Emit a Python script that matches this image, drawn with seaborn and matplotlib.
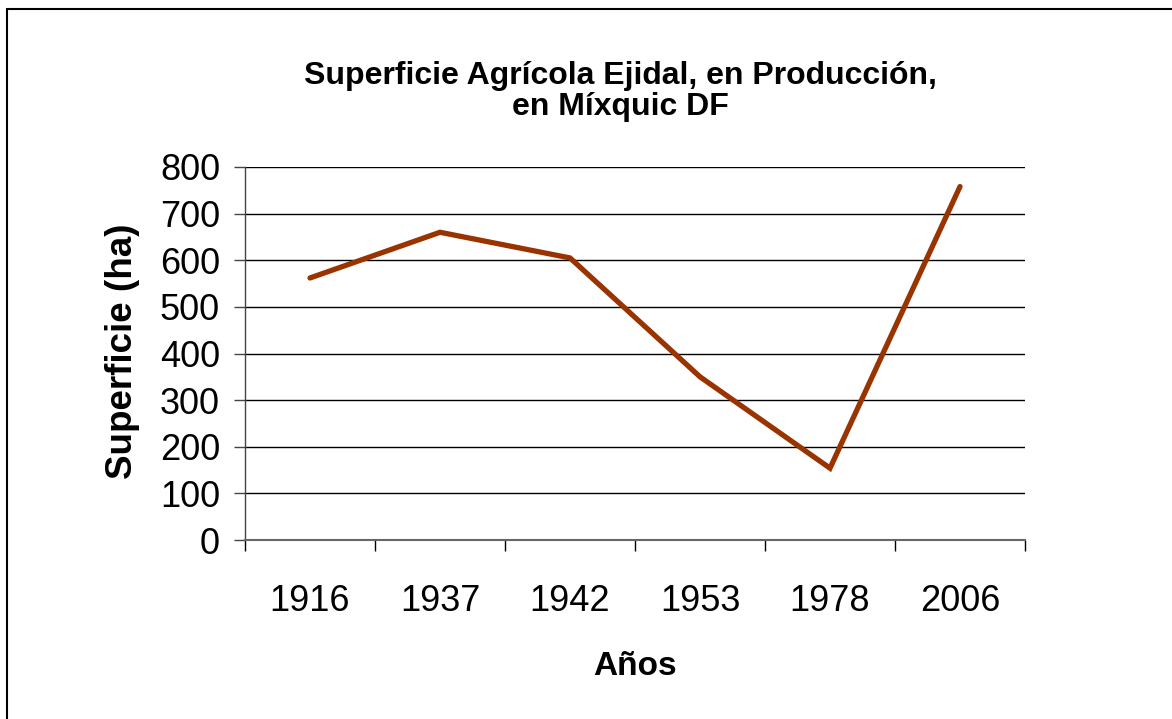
import matplotlib
matplotlib.use("Agg")
import matplotlib.pyplot as plt
import seaborn as sns
import pandas as pd
from matplotlib.lines import Line2D

years = ["1916", "1937", "1942", "1953", "1978", "2006"]
superficie = [562, 660, 605, 350, 154, 758]
yticks = [0, 100, 200, 300, 400, 500, 600, 700, 800]
title_lines = ["Superficie Agrícola Ejidal, en Producción,", "en Míxquic DF"]

sns.set_theme(style="white")
plt.rcParams['font.family'] = ['Liberation Sans', 'DejaVu Sans']
plt.rcParams['text.color'] = 'black'
plt.rcParams['axes.labelcolor'] = 'black'
plt.rcParams['xtick.color'] = 'black'
plt.rcParams['ytick.color'] = 'black'

df = pd.DataFrame({"year": years, "sup": superficie})

W, H = 1172, 719
fig = plt.figure(figsize=(W / 100, H / 100), dpi=100)
fig.patch.set_facecolor("white")
ax = fig.add_axes([245 / W, 1 - 540 / H, (1025 - 245) / W, (540 - 167) / H])

sns.lineplot(data=df, x="year", y="sup", ax=ax, color="#993300", linewidth=3.8,
             sort=False, solid_capstyle="round", solid_joinstyle="miter")

ax.set_xlim(-0.5, len(years) - 0.5)
ax.set_ylim(0, 800)
ax.set_yticks(yticks)
ax.set_yticklabels([str(v) for v in yticks], fontsize=26)
ax.set_xticks(range(len(years)))
ax.set_xticklabels(years, fontsize=26)
ax.set_xticks([i - 0.5 for i in range(len(years) + 1)], minor=True)
ax.tick_params(axis="x", which="major", length=0, pad=32)
ax.tick_params(axis="x", which="minor", length=8, width=1, color="black", direction="out", bottom=True)
ax.tick_params(axis="y", which="major", length=8, width=1, color="#444444", direction="out", left=True, pad=10)

ax.grid(axis="y", color="black", linewidth=1)
ax.grid(axis="x", visible=False)
ax.set_axisbelow(True)
for s in ["top", "right"]:
    ax.spines[s].set_visible(False)
ax.spines["left"].set_color("#444444")
ax.spines["bottom"].set_color("#666666")
ax.spines["left"].set_linewidth(1)
ax.spines["bottom"].set_linewidth(1.5)

ax.set_xlabel("Años", fontsize=24, fontweight="bold", labelpad=23)
ax.set_ylabel("Superficie (ha)", fontsize=26.5, fontweight="bold")
ax.yaxis.set_label_coords(-(245 - 140) / (1025 - 245), (540 - 351) / (540 - 167))

fig.text(620 / W, 1 - 84 / H, title_lines[0], ha="center", va="baseline",
         fontsize=23, fontweight="bold")
fig.text(620 / W, 1 - 115 / H, title_lines[1], ha="center", va="baseline",
         fontsize=23, fontweight="bold")

# outer frame (left and top visible)
fig.add_artist(Line2D([7 / W, 7 / W], [0, 1 - 9 / H], transform=fig.transFigure, color="black", linewidth=1.5))
fig.add_artist(Line2D([7 / W, 1], [1 - 9 / H, 1 - 9 / H], transform=fig.transFigure, color="black", linewidth=1.5))

fig.savefig("out.png", dpi=100, facecolor="white")
